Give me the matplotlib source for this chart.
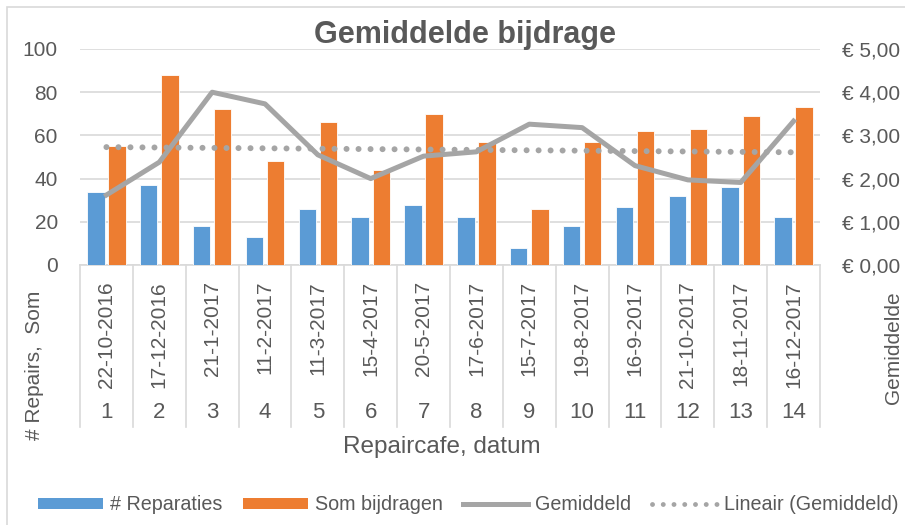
import numpy as np
import matplotlib
matplotlib.use('agg')
import matplotlib.pyplot as plt
from matplotlib.lines import Line2D
from matplotlib.patches import Patch, Rectangle
from matplotlib.transforms import blended_transform_factory

# data
cafe_nr = ['1', '2', '3', '4', '5', '6', '7', '8', '9', '10', '11', '12', '13', '14']
datums = ['22-10-2016', '17-12-2016', '21-1-2017', '11-2-2017', '11-3-2017',
          '15-4-2017', '20-5-2017', '17-6-2017', '15-7-2017', '19-8-2017',
          '16-9-2017', '21-10-2017', '18-11-2017', '16-12-2017']
reparaties = [34, 37, 18, 13, 26, 22, 28, 22, 8, 18, 27, 32, 36, 22]
som_bijdragen = [55, 88, 72, 48, 66, 44, 70, 57, 26, 57, 62, 63, 69, 73]
gemiddeld = [1.62, 2.38, 4.00, 3.73, 2.55, 2.00, 2.52, 2.62, 3.26, 3.18,
             2.30, 1.97, 1.91, 3.33]

BLUE = '#5B9BD5'
ORANGE = '#ED7D31'
GRAY = '#A5A5A5'
TXT = '#595959'
GRID = '#D9D9D9'
W, H = 905, 525

plt.rcParams['font.family'] = ['Liberation Sans', 'DejaVu Sans']


def fx(px):
    return px / W


def fy(py):
    return 1 - py / H


fig = plt.figure(figsize=(W / 100, H / 100), dpi=100)
ax = fig.add_axes([fx(80), fy(265), fx(820) - fx(80), fy(49) - fy(265)])
ax2 = ax.twinx()

x = np.arange(1, len(cafe_nr) + 1)
bw = 0.33
ax.bar(x - 0.2, reparaties, bw, color=BLUE, edgecolor='white', linewidth=0.6,
       zorder=3)
ax.bar(x + 0.2, som_bijdragen, bw, color=ORANGE, edgecolor='white',
       linewidth=0.6, zorder=3)

# Excel style linear trendline
coef = np.polyfit(x, gemiddeld, 1)
trend = np.polyval(coef, x)
ax2.plot(x, trend, color=GRAY, linewidth=4.3, linestyle=(0, (0.01, 2.0)),
         dash_capstyle='round', zorder=4)
ax2.plot(x, gemiddeld, color=GRAY, linewidth=3.6, solid_joinstyle='round',
         zorder=5)

ax.set_xlim(0.5, len(cafe_nr) + 0.5)
ax.set_ylim(0, 100)
ax2.set_ylim(0, 5)
ax.set_yticks(np.arange(0, 101, 20))
ax2.set_yticks(np.arange(0, 5.01, 1))
ax2.set_yticklabels([('€ %.2f' % v).replace('.', ',')
                     for v in np.arange(0, 5.01, 1)])
ax.set_xticks([])
for a in (ax, ax2):
    for s in a.spines.values():
        s.set_visible(False)
    a.tick_params(axis='y', length=0, pad=16, labelsize=15, labelcolor=TXT)
ax.yaxis.grid(True, color=GRID, linewidth=1.2, zorder=0)
ax.set_axisbelow(True)
ax.set_zorder(ax2.get_zorder() - 1)
ax.patch.set_visible(False)

# category axis: two level labels with separators
tr = blended_transform_factory(ax.transData, fig.transFigure)
ax.add_line(Line2D([0.5, len(cafe_nr) + 0.5], [fy(265), fy(265)],
                   transform=tr, color=GRID, linewidth=1.2, clip_on=False))
for k in range(len(cafe_nr) + 1):
    ax.add_line(Line2D([0.5 + k, 0.5 + k], [fy(265), fy(427)], transform=tr,
                       color=GRID, linewidth=1.2, clip_on=False))
for xi, d, n in zip(x, datums, cafe_nr):
    ax.text(xi, fy(281), d, transform=tr, rotation=90, ha='center', va='top',
            fontsize=15, color=TXT)
    ax.text(xi, fy(412), n, transform=tr, ha='center', va='center',
            fontsize=16, color=TXT)

fig.text(fx(465), fy(35), 'Gemiddelde bijdrage', ha='center', va='center',
         fontsize=22, fontweight='bold', color=TXT)
fig.text(fx(442), fy(447), 'Repaircafe, datum', ha='center', va='center',
         fontsize=17.5, color=TXT)
fig.text(fx(35), fy(365), '# Repairs,  Som', rotation=90, ha='center',
         va='center', fontsize=15, color=TXT)
fig.text(fx(893), fy(348), 'Gemiddelde', rotation=90, ha='center',
         va='center', fontsize=15, color=TXT)

handles = [Patch(facecolor=BLUE), Patch(facecolor=ORANGE),
           Line2D([], [], color=GRAY, linewidth=3.6),
           Line2D([], [], color=GRAY, linewidth=3.5,
                  linestyle=(0, (0.01, 2.2)), dash_capstyle='round')]
labels = ['# Reparaties', 'Som bijdragen', 'Gemiddeld', 'Lineair (Gemiddeld)']
fig.legend(handles, labels, loc='center', bbox_to_anchor=(fx(468), fy(505)),
           ncol=4, frameon=False, fontsize=14.2, labelcolor=TXT,
           handlelength=3.3, handleheight=0.5, handletextpad=0.35,
           columnspacing=1.05, borderaxespad=0, borderpad=0)

fig.add_artist(Rectangle((fx(7), fy(W)), 1.5, fy(7) - fy(W),
                         transform=fig.transFigure, fill=False,
                         edgecolor=GRID, linewidth=1.2))

fig.savefig('out.png', dpi=100)
